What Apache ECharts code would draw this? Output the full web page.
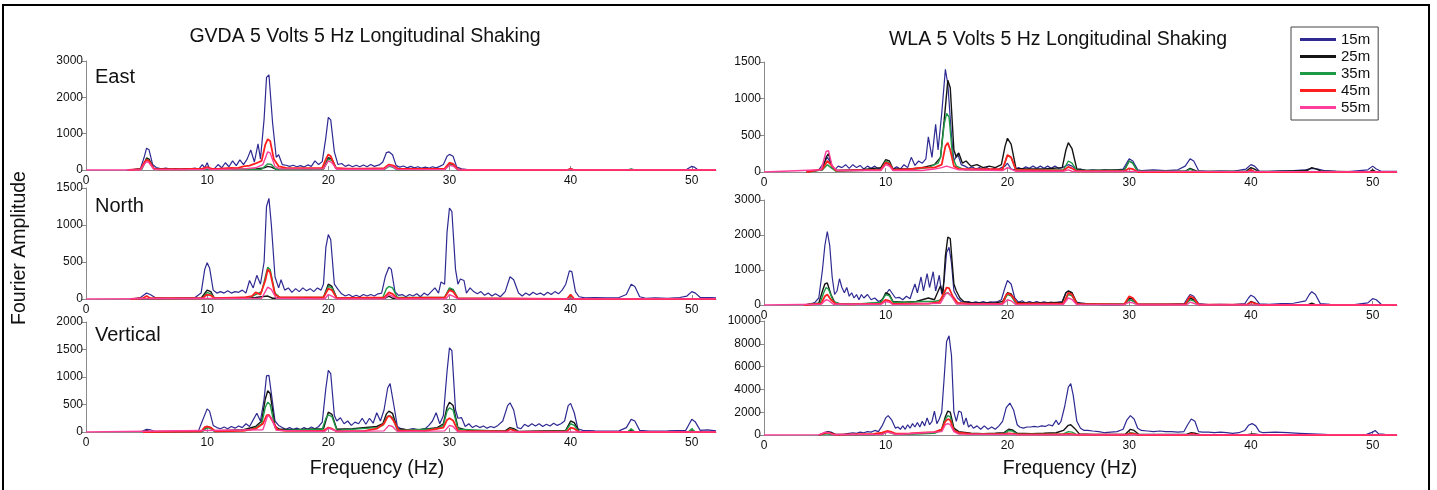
<!DOCTYPE html>
<html>
<head>
    <meta charset="utf-8">
    <title>Fourier Amplitude - GVDA / WLA</title>
    <script src="https://cdn.jsdelivr.net/npm/echarts@6/dist/echarts.min.js"></script>
    <style>
        html, body { margin: 0; padding: 0; background: #fff; }
        #chart { width: 1437px; height: 490px; }
    </style>
</head>
<body>
<div id="chart"></div>
<script>
    // 图例名称 (depth)
    var depths = ['15m', '25m', '35m', '45m', '55m'];
    var titles = ['GVDA 5 Volts 5 Hz Longitudinal Shaking', 'WLA 5 Volts 5 Hz Longitudinal Shaking'];
    var components = ['East', 'North', 'Vertical'];
    var xTicks = [0, 10, 20, 30, 40, 50];
    // y axis max / interval per panel: GVDA E,N,V then WLA E,N,V
    var yMax = [3000, 1500, 2000, 1500, 3000, 10000];
    var yStep = [1000, 500, 500, 500, 1000, 2000];

    // ---- GVDA East ----
    var gvdaEast15 = [[3.3,0],[4,10],[4.5,40],[4.8,350],[5,600],[5.2,560],[5.5,150],[5.8,70],[6.2,30],[6.6,50],[7,20],[7.4,40],[7.8,20],[8.2,40],[8.6,30],[9,50],[9.3,20],[9.6,150],[9.8,60],[10,200],[10.2,30],[10.6,40],[10.9,150],[11.2,60],[11.5,200],[11.8,90],[12.1,250],[12.4,120],[12.7,280],[13,150],[13.3,300],[13.6,550],[13.9,220],[14.2,720],[14.4,300],[14.7,1400],[14.9,2550],[15.1,2620],[15.4,1300],[15.7,350],[15.9,420],[16.2,150],[16.5,130],[16.8,100],[17.1,130],[17.4,90],[17.7,120],[18,80],[18.3,140],[18.6,100],[18.9,250],[19.2,150],[19.5,230],[19.8,900],[20,1450],[20.2,1380],[20.5,500],[20.8,150],[21.1,180],[21.4,100],[21.7,140],[22,90],[22.3,130],[22.6,90],[22.9,140],[23.2,90],[23.5,150],[23.8,100],[24.2,140],[24.5,220],[24.8,480],[25,500],[25.3,420],[25.6,120],[25.9,80],[26.2,110],[26.5,60],[26.8,100],[27.1,60],[27.4,90],[27.7,50],[28,80],[28.3,50],[28.6,90],[28.9,60],[29.2,100],[29.5,150],[29.8,380],[30,430],[30.3,380],[30.6,80],[31,30],[31.5,10],[32,0],[33,10],[34,0],[35,10],[36,0],[37,10],[38,0],[39.7,0],[40,40],[40.3,0],[42,10],[43,0],[44.7,0],[45,20],[45.3,0],[47,10],[48,0],[49.5,0],[49.8,60],[50,100],[50.2,80],[50.5,10],[51,0],[52,10]];
    var gvdaEast25 = [[3.5,0],[4.6,30],[5,330],[5.2,300],[5.6,40],[6,20],[9.6,20],[10,60],[10.4,20],[14,30],[14.7,60],[15,100],[15.3,80],[15.7,20],[19.6,30],[20,340],[20.3,300],[20.7,20],[24.6,20],[25,130],[25.3,100],[25.7,10],[29.6,20],[30,170],[30.3,150],[30.7,0],[52,0]];
    var gvdaEast35 = [[3.5,0],[4.6,20],[5,300],[5.2,260],[5.6,30],[6,10],[14.5,20],[15,170],[15.3,150],[15.7,10],[19.6,20],[20,300],[20.3,260],[20.7,10],[24.6,10],[25,100],[25.3,80],[25.7,0],[29.6,10],[30,150],[30.3,130],[30.7,0],[44.7,0],[45,30],[45.3,0],[52,0]];
    var gvdaEast45 = [[3.5,0],[4.5,20],[4.8,200],[5,280],[5.2,250],[5.6,40],[6,20],[8,20],[9.6,40],[10,80],[10.4,30],[11,40],[12,60],[12.5,50],[13,100],[13.5,120],[14,180],[14.5,250],[14.8,700],[15,850],[15.2,800],[15.5,300],[15.9,100],[16.5,60],[18,50],[19.5,60],[19.8,300],[20,430],[20.2,380],[20.6,60],[21.5,40],[23,40],[24.6,50],[25,150],[25.4,120],[25.8,30],[27,30],[29.6,40],[30,200],[30.3,170],[30.7,20],[31.2,0],[39.7,0],[40,30],[40.3,0],[52,0]];
    var gvdaEast55 = [[0,0],[4.5,0],[4.8,150],[5,230],[5.2,200],[5.6,20],[6,10],[9.7,10],[10,50],[10.3,10],[13,30],[14,60],[14.6,150],[15,500],[15.2,470],[15.6,100],[16,30],[19.6,30],[20,250],[20.3,200],[20.7,20],[24.6,20],[25,120],[25.3,100],[25.7,10],[29.6,10],[30,130],[30.3,110],[30.7,0],[52,0]];

    // ---- GVDA North ----
    var gvdaNorth15 = [[3.7,0],[4.5,20],[5,80],[5.3,60],[5.7,20],[6.2,15],[7,10],[8,15],[9,20],[9.5,80],[9.8,400],[10,490],[10.2,420],[10.5,120],[10.8,80],[11.1,100],[11.4,80],[11.7,110],[12,80],[12.3,100],[12.6,90],[12.9,120],[13.2,80],[13.5,250],[13.8,150],[14.1,320],[14.4,200],[14.7,500],[14.9,1250],[15.1,1360],[15.3,1000],[15.6,300],[15.9,150],[16.1,260],[16.4,120],[16.7,150],[17,90],[17.3,140],[17.6,100],[17.9,150],[18.2,110],[18.5,140],[18.8,100],[19.1,150],[19.4,120],[19.6,200],[19.8,700],[20,870],[20.2,800],[20.5,200],[20.8,130],[21.1,70],[21.4,40],[21.7,60],[22,30],[22.3,50],[22.6,30],[22.9,60],[23.2,40],[23.5,60],[23.8,40],[24.1,70],[24.4,80],[24.7,300],[25,430],[25.2,400],[25.5,100],[25.8,50],[26.1,60],[26.4,30],[26.7,60],[27,40],[27.3,70],[27.6,30],[27.9,80],[28.2,50],[28.5,100],[28.8,150],[29.1,80],[29.3,230],[29.6,200],[29.8,900],[30,1230],[30.2,1180],[30.5,400],[30.7,200],[30.9,270],[31.2,250],[31.4,80],[31.7,150],[32,100],[32.3,70],[32.6,100],[32.9,50],[33.2,80],[33.5,40],[33.8,70],[34.2,30],[34.6,100],[35,300],[35.3,260],[35.7,80],[36,40],[36.3,80],[36.6,50],[36.9,90],[37.2,60],[37.5,80],[37.8,50],[38.1,90],[38.4,60],[38.7,100],[39,70],[39.3,120],[39.6,200],[39.9,380],[40.1,370],[40.4,100],[40.7,30],[41.2,15],[42,20],[43,15],[44,20],[44.6,60],[45,200],[45.3,170],[45.7,30],[46.2,10],[47,15],[48,10],[49,20],[49.6,40],[50,100],[50.3,80],[50.7,20],[51.5,20],[52,15]];
    var gvdaNorth25 = [[3.7,0],[9.5,10],[10,120],[10.3,100],[10.6,10],[14,20],[15,40],[15.4,10],[19.6,20],[20,200],[20.3,170],[20.7,10],[24.7,10],[25,40],[25.3,10],[29.6,20],[30,140],[30.3,120],[30.7,0],[52,0]];
    var gvdaNorth35 = [[3.7,0],[9.6,10],[10,90],[10.3,70],[10.6,10],[13.5,20],[14,60],[14.5,100],[14.8,300],[15,430],[15.2,400],[15.6,80],[16,20],[19.6,20],[20,170],[20.3,150],[20.7,10],[24.5,20],[24.8,140],[25,170],[25.3,150],[25.7,20],[29.6,20],[30,150],[30.3,130],[30.7,10],[39.7,0],[40,40],[40.3,0],[52,0]];
    var gvdaNorth45 = [[3.7,0],[4.7,10],[5,40],[5.3,10],[9.6,10],[10,60],[10.3,50],[10.6,10],[13,20],[13.7,40],[14,90],[14.4,60],[14.8,250],[15,400],[15.2,360],[15.6,60],[16,20],[19.6,20],[20,140],[20.3,120],[20.7,10],[24.6,20],[25,90],[25.3,70],[25.7,10],[29.6,20],[30,120],[30.3,100],[30.7,10],[39.7,0],[40,60],[40.3,0],[52,0]];
    var gvdaNorth55 = [[0,0],[14.5,10],[15,160],[15.3,130],[15.7,10],[19.7,0],[20,60],[20.3,40],[20.7,0],[24.6,0],[25,60],[25.3,40],[25.7,0],[29.7,0],[30,60],[30.3,40],[30.7,0],[52,0]];

    // ---- GVDA Vertical ----
    var gvdaVert15 = [[4.5,0],[5,50],[5.3,40],[5.7,10],[6.5,10],[7.5,15],[8.5,15],[9.3,30],[9.6,200],[10,420],[10.2,380],[10.5,120],[10.8,80],[11.1,60],[11.4,90],[11.7,60],[12,100],[12.3,70],[12.6,110],[12.9,80],[13.2,150],[13.5,100],[13.8,220],[14.1,340],[14.4,200],[14.7,600],[14.9,1020],[15.1,1030],[15.3,700],[15.6,200],[15.9,120],[16.2,80],[16.5,50],[16.8,80],[17.1,50],[17.4,70],[17.7,40],[18,80],[18.3,50],[18.6,90],[18.9,60],[19.2,100],[19.5,180],[19.8,800],[20,1120],[20.2,1060],[20.5,300],[20.7,200],[21,260],[21.3,150],[21.6,200],[21.9,120],[22.2,180],[22.5,150],[22.8,250],[23.1,140],[23.4,250],[23.7,160],[24,350],[24.3,200],[24.6,400],[24.9,800],[25.1,880],[25.4,500],[25.7,100],[26,60],[26.5,40],[27,60],[27.5,40],[28,60],[28.3,120],[28.6,200],[28.9,350],[29.2,150],[29.5,300],[29.8,1100],[30,1530],[30.2,1480],[30.5,400],[30.7,250],[31,260],[31.3,100],[31.6,150],[31.9,80],[32.2,120],[32.5,80],[32.8,110],[33.1,70],[33.4,100],[33.7,80],[34,120],[34.4,200],[34.8,480],[35,530],[35.3,400],[35.6,80],[35.9,60],[36.2,140],[36.5,100],[36.8,150],[37.1,110],[37.4,150],[37.7,100],[38,140],[38.3,110],[38.6,160],[38.9,120],[39.2,150],[39.5,200],[39.8,480],[40,520],[40.3,350],[40.6,60],[41,30],[42,20],[43,15],[44,20],[44.6,80],[45,230],[45.3,200],[45.7,30],[46.5,15],[48,20],[49.5,30],[49.8,150],[50,230],[50.3,180],[50.7,30],[51.3,40],[52,20]];
    var gvdaVert25 = [[4.7,0],[5,30],[5.3,0],[9.6,10],[10,100],[10.3,80],[10.6,20],[13,40],[14,100],[14.5,200],[14.8,600],[15,750],[15.2,700],[15.6,100],[16,50],[17,40],[19.6,60],[20,360],[20.3,320],[20.7,50],[22,60],[24,100],[24.5,150],[24.8,330],[25,380],[25.3,340],[25.7,60],[27,30],[29,80],[29.5,150],[29.8,450],[30,540],[30.3,480],[30.7,80],[31.5,30],[34.6,20],[35,80],[35.3,60],[35.7,10],[39.6,30],[40,200],[40.3,170],[40.7,10],[44.7,0],[45,40],[45.3,0],[49.7,0],[50,20],[50.3,0],[52,0]];
    var gvdaVert35 = [[4.7,0],[9.6,10],[10,80],[10.3,60],[10.6,10],[13.5,40],[14,80],[14.5,150],[14.8,450],[15,540],[15.2,500],[15.6,80],[16,30],[19.5,50],[19.8,250],[20,310],[20.3,280],[20.7,30],[24,80],[24.5,120],[24.8,260],[25,300],[25.3,260],[25.7,30],[29,60],[29.5,120],[29.8,380],[30,440],[30.3,400],[30.7,50],[34.7,10],[35,60],[35.3,40],[35.7,0],[39.6,20],[40,150],[40.3,120],[40.7,0],[44.7,0],[45,60],[45.3,0],[49.7,0],[50,60],[50.3,0],[52,0]];
    var gvdaVert45 = [[4.7,0],[9.5,10],[9.8,90],[10,100],[10.3,80],[10.7,10],[13,20],[14,60],[14.6,150],[14.9,300],[15.1,310],[15.4,200],[15.8,40],[16.5,20],[19.6,20],[20,80],[20.3,60],[20.7,10],[23,20],[24,60],[24.6,150],[24.9,280],[25.1,290],[25.4,200],[25.8,30],[28,20],[29.5,80],[29.8,220],[30,250],[30.3,210],[30.7,20],[34.7,10],[35,50],[35.3,30],[35.7,0],[39.7,10],[40,80],[40.3,60],[40.7,0],[52,0]];
    var gvdaVert55 = [[0,0],[14.6,40],[15,300],[15.3,260],[15.7,30],[19.7,10],[20,70],[20.3,50],[20.7,10],[24.6,20],[25,120],[25.3,100],[25.7,10],[29.6,20],[30,120],[30.3,100],[30.7,0],[52,0]];

    // ---- WLA East ----
    var wlaEast15 = [[3.5,0],[4,10],[4.5,30],[4.9,120],[5.2,200],[5.5,120],[5.8,30],[6.1,80],[6.4,60],[6.7,100],[7,50],[7.3,100],[7.6,60],[7.9,90],[8.2,40],[8.5,80],[8.8,50],[9.1,80],[9.4,40],[9.7,60],[10,120],[10.3,100],[10.6,40],[10.9,70],[11.2,40],[11.5,100],[11.8,60],[12.1,200],[12.4,90],[12.7,150],[13,120],[13.3,180],[13.5,480],[13.8,200],[14.1,650],[14.3,300],[14.6,800],[14.9,1400],[15.1,1200],[15.4,500],[15.6,150],[15.9,250],[16.2,100],[16.5,80],[16.8,50],[17.1,70],[17.4,40],[17.7,60],[18,30],[18.3,60],[18.6,30],[18.9,50],[19.2,30],[19.5,60],[19.8,80],[20,120],[20.3,40],[20.6,30],[20.9,60],[21.2,40],[21.5,70],[21.8,50],[22.1,80],[22.4,50],[22.7,80],[23,50],[23.3,80],[23.6,50],[23.9,80],[24.2,50],[24.5,60],[25,100],[25.3,80],[25.7,30],[26,40],[26.5,20],[27,30],[27.5,20],[28,30],[28.5,20],[29,30],[29.5,40],[30,180],[30.3,150],[30.7,30],[31,20],[32,30],[33,20],[34,30],[34.6,80],[35,180],[35.3,150],[35.7,20],[36.5,10],[37.5,15],[38.5,10],[39.6,40],[40,100],[40.3,80],[40.7,10],[41.5,10],[42.5,15],[43.5,20],[44.5,30],[45,50],[45.5,40],[46,20],[47,10],[48,5],[49.6,30],[50,80],[50.3,40],[50.7,10],[51.5,10],[52,10]];
    var wlaEast25 = [[3.5,0],[4.8,30],[5.1,200],[5.3,250],[5.6,60],[6,20],[8,30],[9.6,60],[10,170],[10.3,150],[10.6,40],[12,40],[13,60],[13.5,80],[14,100],[14.5,200],[14.8,700],[15.1,1250],[15.3,1150],[15.6,300],[15.8,200],[16,260],[16.3,120],[16.6,150],[17,80],[17.5,100],[18,60],[18.5,80],[19,60],[19.5,100],[19.8,350],[20,460],[20.3,380],[20.7,50],[21.5,40],[23,40],[24.5,60],[24.8,300],[25,400],[25.3,320],[25.7,40],[26.5,20],[29.6,30],[30,150],[30.3,120],[30.7,10],[34.6,10],[35,50],[35.3,30],[35.7,0],[39.6,10],[40,60],[40.3,40],[40.7,0],[44.6,20],[45,60],[45.4,40],[45.8,10],[49.7,0],[50,30],[50.3,0],[52,0]];
    var wlaEast35 = [[3.5,0],[4.8,30],[5.2,100],[5.5,60],[5.9,10],[9.6,30],[10,150],[10.3,120],[10.6,30],[12,30],[13,50],[13.5,60],[14,100],[14.3,120],[14.5,200],[14.8,650],[15,800],[15.2,750],[15.5,200],[15.8,80],[16.5,30],[19.6,30],[20,230],[20.3,200],[20.7,20],[24.6,30],[25,150],[25.3,120],[25.7,20],[29.6,20],[30,150],[30.3,120],[30.7,10],[34.7,10],[35,40],[35.3,10],[52,0]];
    var wlaEast45 = [[3.5,0],[4.8,40],[5.2,150],[5.5,100],[5.9,20],[9.6,30],[10,130],[10.3,110],[10.6,30],[12,40],[13,60],[14,60],[14.6,100],[14.9,350],[15.1,400],[15.3,300],[15.6,80],[16,40],[19.6,40],[20,230],[20.3,200],[20.7,30],[24.6,20],[25,70],[25.3,50],[25.7,10],[29.6,10],[30,50],[30.3,40],[30.7,0],[39.7,0],[40,30],[40.3,0],[52,0]];
    var wlaEast55 = [[0,0],[4.7,30],[5.1,280],[5.3,290],[5.6,80],[6,20],[9.6,20],[10,100],[10.3,80],[10.6,20],[13,20],[14,40],[14.6,60],[15,80],[15.4,60],[16,30],[19.6,20],[20,60],[20.3,40],[20.7,10],[24.6,10],[25,30],[25.3,10],[52,0]];

    // ---- WLA North ----
    var wlaNorth15 = [[3.3,0],[3.8,30],[4.2,80],[4.5,200],[4.8,1000],[5,1700],[5.2,2100],[5.4,1700],[5.6,800],[5.8,300],[6,400],[6.2,750],[6.4,500],[6.6,350],[6.8,500],[7,250],[7.2,350],[7.4,200],[7.6,300],[7.8,150],[8,300],[8.2,200],[8.5,300],[8.8,150],[9.1,200],[9.4,100],[9.7,150],[10,300],[10.3,450],[10.5,350],[10.8,200],[11.1,220],[11.4,150],[11.7,250],[12,180],[12.2,400],[12.4,600],[12.6,350],[12.9,800],[13.1,400],[13.4,900],[13.6,500],[13.9,950],[14.1,400],[14.4,850],[14.6,300],[14.8,700],[15,1500],[15.2,1650],[15.4,1200],[15.6,400],[15.9,200],[16.2,100],[16.5,80],[16.8,100],[17.1,60],[17.4,90],[17.7,60],[18,100],[18.3,60],[18.6,90],[18.9,80],[19.2,100],[19.5,150],[19.8,500],[20,700],[20.3,600],[20.6,200],[20.9,80],[21.2,120],[21.5,60],[21.8,100],[22.1,60],[22.4,100],[22.7,60],[23,90],[23.3,60],[23.6,80],[23.9,50],[24.2,80],[24.5,100],[24.8,350],[25,400],[25.3,350],[25.6,80],[26,60],[26.5,40],[27,30],[27.5,10],[28,0],[29,0],[29.6,20],[30,150],[30.3,120],[30.7,10],[32,0],[34.5,30],[34.8,200],[35,300],[35.3,250],[35.7,40],[36.5,10],[37.5,20],[38.5,10],[39.5,40],[39.8,200],[40,280],[40.3,220],[40.7,30],[41.5,20],[42.5,40],[43.5,50],[44.5,120],[44.8,300],[45,380],[45.3,300],[45.7,40],[46.5,20],[47.5,10],[48.5,10],[49.6,60],[50,180],[50.3,150],[50.7,20],[51.5,10],[52,0]];
    var wlaNorth25 = [[3.3,0],[4.5,50],[4.8,400],[5,600],[5.2,630],[5.5,300],[5.8,80],[6.2,40],[7,20],[8,30],[9.5,60],[9.8,200],[10,350],[10.3,300],[10.6,100],[11.5,80],[12.5,100],[13.5,200],[14,150],[14.5,550],[14.7,300],[14.9,1400],[15.1,1940],[15.3,1900],[15.6,600],[15.8,400],[16.1,200],[16.4,100],[17,60],[18,60],[19,60],[19.6,100],[20,350],[20.3,320],[20.7,80],[21.5,60],[23,60],[24.5,80],[24.8,350],[25,400],[25.3,350],[25.7,60],[26.5,20],[29.6,20],[30,200],[30.3,170],[30.7,20],[34.6,20],[35,200],[35.3,150],[35.7,10],[39.7,10],[40,100],[40.3,60],[40.7,0],[44.7,10],[45,50],[45.3,10],[52,0]];
    var wlaNorth35 = [[3.3,0],[4.6,50],[4.9,350],[5.1,500],[5.3,450],[5.7,100],[6.2,30],[8,40],[9.6,80],[10,300],[10.3,260],[10.6,80],[12,80],[13,100],[14,100],[14.6,150],[14.9,330],[15.1,350],[15.4,250],[15.8,60],[17,30],[19.6,40],[20,300],[20.3,260],[20.7,40],[24.6,40],[25,300],[25.3,260],[25.7,30],[29.6,20],[30,150],[30.3,120],[30.7,10],[34.6,10],[35,150],[35.3,120],[35.7,0],[52,0]];
    var wlaNorth45 = [[3.3,0],[4.7,40],[5,250],[5.2,300],[5.5,150],[5.9,30],[7,20],[9.6,40],[10,150],[10.3,120],[10.6,30],[12,40],[13.5,40],[14.4,80],[14.8,350],[15,500],[15.2,480],[15.5,250],[15.9,60],[17,30],[19.6,40],[19.9,300],[20.1,330],[20.4,250],[20.8,40],[24.6,40],[25,350],[25.3,300],[25.7,30],[29.6,20],[30,250],[30.3,200],[30.7,20],[34.6,20],[35,250],[35.3,200],[35.7,10],[39.7,10],[40,80],[40.3,50],[40.7,0],[52,0]];
    var wlaNorth55 = [[0,0],[4.7,20],[5.1,150],[5.3,130],[5.7,20],[9.6,20],[10,100],[10.3,80],[10.6,10],[14.5,50],[14.9,300],[15.1,350],[15.4,250],[15.8,30],[19.6,20],[20,150],[20.3,120],[20.7,10],[24.6,20],[25,200],[25.3,160],[25.7,10],[29.6,10],[30,80],[30.3,60],[30.7,0],[34.7,0],[35,80],[35.3,50],[35.7,0],[52,0]];

    // ---- WLA Vertical ----
    var wlaVert15 = [[4.5,0],[4.9,150],[5.2,300],[5.5,250],[5.9,50],[6.5,50],[7,150],[7.3,200],[7.6,150],[7.9,250],[8.2,200],[8.5,300],[8.8,250],[9.1,400],[9.4,300],[9.7,800],[10,1500],[10.2,1700],[10.5,1300],[10.8,600],[11,700],[11.2,500],[11.4,800],[11.6,500],[11.8,900],[12,600],[12.2,1000],[12.4,700],[12.6,1100],[12.8,700],[13,1200],[13.2,800],[13.4,1500],[13.6,900],[13.8,1200],[14,2100],[14.2,1000],[14.4,1400],[14.6,2000],[14.8,5000],[15,8200],[15.2,8700],[15.4,7000],[15.6,2000],[15.8,1200],[16,2100],[16.2,2000],[16.4,900],[16.6,1500],[16.8,700],[17,900],[17.2,600],[17.5,800],[17.8,500],[18.1,800],[18.4,500],[18.7,700],[19,500],[19.3,800],[19.6,1200],[19.9,2400],[20.2,2800],[20.5,2200],[20.8,900],[21,700],[21.3,600],[21.6,700],[21.9,700],[22.2,750],[22.5,700],[22.8,800],[23.1,750],[23.4,900],[23.7,800],[24,1300],[24.2,900],[24.4,1200],[24.7,2500],[25,4200],[25.2,4500],[25.4,3500],[25.7,1200],[26,600],[26.3,400],[26.6,400],[27,350],[27.5,300],[28,200],[28.5,250],[29,300],[29.5,500],[29.8,1300],[30.1,1700],[30.4,1400],[30.7,600],[31,400],[31.5,350],[32,300],[32.5,350],[33,300],[33.5,300],[34,250],[34.5,300],[34.8,900],[35.1,1400],[35.4,1200],[35.7,300],[36,250],[36.5,250],[37,200],[37.5,250],[38,200],[38.5,150],[39,200],[39.5,400],[39.8,850],[40.1,1000],[40.4,800],[40.7,300],[41,200],[42,250],[43,200],[44,150],[45,100],[46,50],[47,0],[49.5,50],[50,250],[50.2,400],[50.5,100],[51,50],[52,30]];
    var wlaVert25 = [[4.5,0],[4.9,100],[5.2,250],[5.5,200],[5.9,20],[7,30],[9,50],[9.7,100],[10.1,300],[10.4,250],[10.8,80],[12,100],[13,150],[14,200],[14.6,500],[14.9,1600],[15.1,2100],[15.3,2000],[15.6,600],[16,300],[17,150],[18,120],[19,150],[19.7,200],[20.1,500],[20.4,450],[20.8,150],[22,120],[23,150],[24,200],[24.6,400],[25,850],[25.2,900],[25.5,600],[25.9,100],[27,50],[29.7,80],[30.1,500],[30.4,400],[30.8,50],[34.7,50],[35.1,200],[35.4,150],[35.8,20],[39.7,20],[40.1,100],[40.4,60],[40.8,0],[52,0]];
    var wlaVert35 = [[4.5,0],[5,100],[5.3,80],[5.8,0],[9.7,50],[10.1,250],[10.4,200],[10.8,50],[12,80],[13,100],[14,150],[14.6,400],[14.9,1400],[15.1,1700],[15.3,1600],[15.6,400],[16,150],[17,100],[19.7,100],[20.1,400],[20.4,350],[20.8,80],[23,60],[24.6,100],[25,300],[25.3,250],[25.7,30],[29.7,20],[30.1,200],[30.4,150],[30.8,0],[52,0]];
    var wlaVert45 = [[4.5,0],[4.9,150],[5.2,200],[5.5,150],[5.9,20],[7,50],[9,100],[9.7,200],[10.1,350],[10.4,300],[10.8,120],[12,150],[13,200],[14,250],[14.6,500],[14.9,1200],[15.1,1400],[15.3,1300],[15.6,400],[16,200],[17,100],[18,80],[19.7,80],[20.1,150],[20.4,120],[20.8,50],[24.6,50],[25,100],[25.3,80],[25.7,20],[29.7,20],[30.1,150],[30.4,100],[30.8,0],[34.8,0],[35.1,100],[35.4,50],[35.8,0],[52,0]];
    var wlaVert55 = [[0,0],[4.6,30],[5,250],[5.3,200],[5.7,20],[9.7,50],[10.1,250],[10.4,200],[10.8,50],[14.6,300],[14.9,900],[15.1,1000],[15.3,900],[15.6,300],[16,80],[19.7,30],[20.1,100],[20.4,80],[20.8,10],[52,0]];

    // panel order: GVDA E,N,V ; WLA E,N,V  -> each row of 5 depths
    var panelData = [
        [gvdaEast15, gvdaEast25, gvdaEast35, gvdaEast45, gvdaEast55],
        [gvdaNorth15, gvdaNorth25, gvdaNorth35, gvdaNorth45, gvdaNorth55],
        [gvdaVert15, gvdaVert25, gvdaVert35, gvdaVert45, gvdaVert55],
        [wlaEast15, wlaEast25, wlaEast35, wlaEast45, wlaEast55],
        [wlaNorth15, wlaNorth25, wlaNorth35, wlaNorth45, wlaNorth55],
        [wlaVert15, wlaVert25, wlaVert35, wlaVert45, wlaVert55]
    ];

    var colors = ['#2e2a92', '#151515', '#1e9a46', '#ff1f1f', '#ff3d9a'];
    var widths = [1.2, 1.4, 1.4, 1.8, 1.4];
    var font = 'Liberation Sans';

    // 网格位置
    var grids = [
        {left: 86, top: 61, width: 630, height: 109},
        {left: 86, top: 188, width: 630, height: 111},
        {left: 86, top: 322, width: 630, height: 110},
        {left: 764, top: 62, width: 633, height: 110},
        {left: 764, top: 200, width: 633, height: 105},
        {left: 764, top: 321, width: 633, height: 114}
    ];

    var xAxes = [], yAxes = [], series = [];
    for (var i = 0; i < 6; i++) {
        xAxes.push({
            gridIndex: i, type: 'value', min: 0, max: 52,
            axisLine: {show: true, onZero: false, lineStyle: {color: '#8a8a8a', width: 1}},
            axisTick: {show: true, inside: true, length: 4, customValues: xTicks, lineStyle: {color: '#8a8a8a'}},
            axisLabel: {fontSize: 12, color: '#111', fontFamily: font, margin: 5, customValues: xTicks},
            splitLine: {show: false}
        });
        yAxes.push({
            gridIndex: i, type: 'value', min: 0, max: yMax[i], interval: yStep[i],
            axisLine: {show: true, lineStyle: {color: '#8a8a8a', width: 1}},
            axisTick: {show: true, inside: false, length: 4, lineStyle: {color: '#8a8a8a'}},
            axisLabel: {fontSize: 12, color: '#111', fontFamily: font, margin: 3,
                formatter: function (v) { return String(v); }},
            splitLine: {show: false}
        });
        for (var k = 0; k < 5; k++) {
            series.push({
                name: depths[k], type: 'line',
                xAxisIndex: i, yAxisIndex: i,
                data: panelData[i][k],
                showSymbol: false, symbol: 'none',
                lineStyle: {color: colors[k], width: widths[k]},
                itemStyle: {color: colors[k]},
                z: 2 + k
            });
        }
    }

    var graphics = [
        {type: 'rect', shape: {x: 3, y: 5, width: 1426, height: 492},
            style: {fill: 'none', stroke: '#000', lineWidth: 2}},
        {type: 'text', x: 365, y: 37, style: {text: titles[0], font: '19.5px ' + font, textAlign: 'center', textVerticalAlign: 'middle', fill: '#111'}},
        {type: 'text', x: 1058, y: 40, style: {text: titles[1], font: '19.5px ' + font, textAlign: 'center', textVerticalAlign: 'middle', fill: '#111'}},
        {type: 'text', x: 377, y: 469, style: {text: 'Frequency (Hz)', font: '19.5px ' + font, textAlign: 'center', textVerticalAlign: 'middle', fill: '#111'}},
        {type: 'text', x: 1070, y: 469, style: {text: 'Frequency (Hz)', font: '19.5px ' + font, textAlign: 'center', textVerticalAlign: 'middle', fill: '#111'}},
        {type: 'text', x: 20, y: 248, rotation: Math.PI / 2, style: {text: 'Fourier Amplitude', font: '19.5px ' + font, textAlign: 'center', textVerticalAlign: 'middle', fill: '#111'}},
        {type: 'text', x: 95, y: 77, style: {text: components[0], font: '20px ' + font, textAlign: 'left', textVerticalAlign: 'middle', fill: '#111'}},
        {type: 'text', x: 95, y: 206, style: {text: components[1], font: '20px ' + font, textAlign: 'left', textVerticalAlign: 'middle', fill: '#111'}},
        {type: 'text', x: 95, y: 335, style: {text: components[2], font: '20px ' + font, textAlign: 'left', textVerticalAlign: 'middle', fill: '#111'}}
    ];

    var myChart = echarts.init(document.getElementById('chart'));
    myChart.setOption({
        animation: false,
        backgroundColor: '#fff',
        legend: {
            data: depths, orient: 'vertical', left: 1291, top: 27,
            icon: 'rect', itemWidth: 36, itemHeight: 3, itemGap: 2,
            padding: [5, 8, 5, 9],
            borderColor: '#444', borderWidth: 1, backgroundColor: '#fff',
            textStyle: {fontSize: 15, fontFamily: font, color: '#111'}
        },
        grid: grids,
        xAxis: xAxes,
        yAxis: yAxes,
        series: series,
        graphic: graphics
    });
</script>
</body>
</html>
